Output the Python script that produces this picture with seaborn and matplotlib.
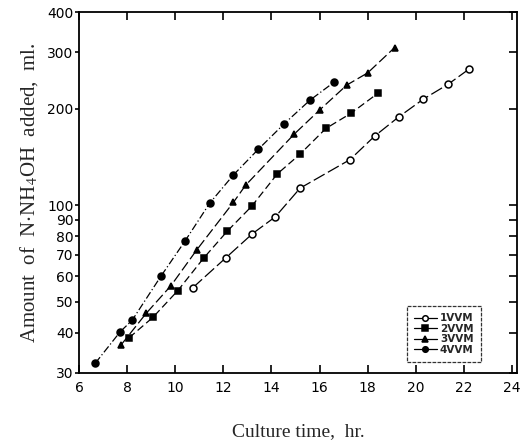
import numpy as np
import pandas as pd
import matplotlib
matplotlib.use("Agg")
import matplotlib.pyplot as plt
import seaborn as sns

# 1 VVM (open circles)
t_1vvm = [10.73, 12.09, 13.21, 14.16, 15.19, 17.26, 18.29, 19.28, 20.31, 21.35, 22.21]
v_1vvm = [55.3, 68.4, 81.5, 92.0, 113, 138.6, 164.2, 188.2, 214, 238.4, 265.5]

# 2 VVM (filled squares)
t_2vvm = [8.08, 9.07, 10.11, 11.18, 12.17, 13.17, 14.24, 15.19, 16.26, 17.30, 18.41]
v_2vvm = [38.6, 44.7, 54.2, 68.4, 83.1, 99.1, 125.1, 144.3, 173.4, 193.3, 222.9]

# 3 VVM (filled triangles)
t_3vvm = [7.75, 8.79, 9.82, 10.89, 12.42, 12.92, 14.94, 16.02, 17.13, 18.0, 19.12]
v_3vvm = [36.7, 46.0, 56.1, 72.5, 102.1, 115.3, 166.4, 198.6, 236.8, 258.5, 310]

# 4 VVM (filled circles)
t_4vvm = [6.68, 7.71, 8.21, 9.40, 10.40, 11.43, 12.42, 13.45, 14.53, 15.60, 16.60]
v_4vvm = [32.2, 40.3, 43.8, 60.0, 77.2, 101.4, 124.3, 149.3, 179.4, 212.5, 241.7]

x_ticks = [6, 8, 10, 12, 14, 16, 18, 20, 22, 24]
y_ticks = [30, 40, 50, 60, 70, 80, 90, 100, 200, 300, 400]

series = [
    ("1VVM", t_1vvm, v_1vvm, "o", "white", (0, (10, 3))),
    ("2VVM", t_2vvm, v_2vvm, "s", "black", (0, (6, 3))),
    ("3VVM", t_3vvm, v_3vvm, "^", "black", (0, (8, 3))),
    ("4VVM", t_4vvm, v_4vvm, "o", "black", (0, (6, 2, 1, 2))),
]

sns.set_style("ticks")
plt.rcParams["mathtext.fontset"] = "stix"

fig = plt.figure(figsize=(5.2, 4.45), dpi=100)
ax = fig.add_axes([0.152, 0.162, 0.842, 0.811])

for name, t, v, mk, fc, ls in series:
    df = pd.DataFrame({"time": t, "amount": v})
    sns.lineplot(data=df, x="time", y="amount", ax=ax, color="black",
                 marker=mk, markerfacecolor=fc, markeredgecolor="black",
                 markeredgewidth=1.1, markersize=5, linewidth=0.9,
                 linestyle=ls, label=name)

ax.set_yscale("log")
ax.set_xlim(6.1, 24.2)
ax.set_ylim(30, 400)
ax.set_xticks(x_ticks)
ax.set_xticklabels([str(x) for x in x_ticks])
ax.yaxis.set_major_locator(matplotlib.ticker.FixedLocator(y_ticks))
ax.yaxis.set_minor_locator(matplotlib.ticker.NullLocator())
ax.set_yticklabels([str(y) for y in y_ticks])

for sp in ax.spines.values():
    sp.set_visible(True)
    sp.set_linewidth(1.3)
    sp.set_color("black")

ax.tick_params(axis="x", which="major", direction="in", length=6, width=1.2,
               top=True, labelsize=10, pad=6, colors="black")
ax.tick_params(axis="y", which="major", direction="out", length=3, width=1.2,
               labelsize=10, pad=1, colors="black")
ax.tick_params(axis="y", which="major", right=True)
for tk in ax.yaxis.get_major_ticks():
    tk.tick2line.set_marker(matplotlib.lines.TICKLEFT)
    tk.tick2line.set_markersize(6)

ax.set_xlabel("Culture time,  hr.", family="Liberation Serif", fontsize=14, labelpad=20)
ax.set_ylabel(r"Amount  of  N$\cdot$NH$_4$OH  added,  ml.", family="Liberation Serif",
              fontsize=15, labelpad=5)

leg = ax.legend(loc="lower right", bbox_to_anchor=(0.93, 0.015), frameon=True,
                fancybox=False, edgecolor="black", handlelength=2.2,
                handletextpad=0.3, labelspacing=0.05, borderpad=0.7,
                prop={"weight": "bold", "size": 7.5})
leg.get_frame().set_linewidth(0.9)
leg.get_frame().set_linestyle((0, (3, 1)))
for h in leg.get_lines():
    h.set_markersize(4)
    h.set_linestyle("-")

fig.savefig("out.png", dpi=100)
